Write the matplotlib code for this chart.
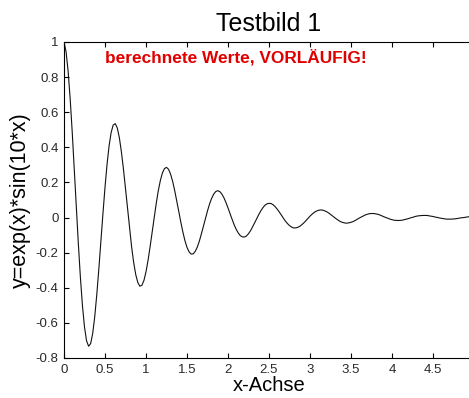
import numpy as np
import matplotlib
matplotlib.use("Agg")
import matplotlib.pyplot as plt

plt.rcParams['font.family'] = ['Liberation Sans', 'DejaVu Sans']

# abgetastete Kurve, Schrittweite 0.025 von 0 bis 5
x_values = np.arange(0, 5.0001, 0.025)
y_values = [
    1.000, 0.945, 0.835, 0.679, 0.489, 0.278, 0.061, -0.150, -0.341, -0.502,
    -0.624, -0.702, -0.733, -0.718, -0.660, -0.564, -0.438, -0.292, -0.134, 0.023,
    0.172, 0.303, 0.409, 0.485, 0.527, 0.535, 0.510, 0.455, 0.374, 0.276,
    0.164, 0.048, -0.065, -0.169, -0.257, -0.325, -0.370, -0.391, -0.386, -0.358,
    -0.309, -0.244, -0.166, -0.083, 0.001, 0.081, 0.153, 0.211, 0.254, 0.279,
    0.286, 0.275, 0.247, 0.206, 0.154, 0.095, 0.034, -0.027, -0.083, -0.132,
    -0.170, -0.195, -0.208, -0.207, -0.193, -0.169, -0.135, -0.094, -0.050, -0.005,
    0.038, 0.077, 0.109, 0.133, 0.148, 0.153, 0.148, 0.134, 0.113, 0.086,
    0.055, 0.022, -0.010, -0.041, -0.067, -0.088, -0.103, -0.110, -0.111, -0.105,
    -0.092, -0.075, -0.053, -0.030, -0.006, 0.017, 0.038, 0.056, 0.070, 0.078,
    0.081, 0.080, 0.073, 0.062, 0.048, 0.032, 0.014, -0.003, -0.020, -0.034,
    -0.046, -0.054, -0.059, -0.059, -0.056, -0.050, -0.041, -0.030, -0.018, -0.005,
    0.008, 0.019, 0.029, 0.036, 0.041, 0.043, 0.043, 0.039, 0.034, 0.027,
    0.018, 0.009, -0.000, -0.009, -0.017, -0.024, -0.028, -0.031, -0.032, -0.030,
    -0.027, -0.023, -0.017, -0.010, -0.003, 0.003, 0.009, 0.015, 0.019, 0.022,
    0.023, 0.023, 0.021, 0.019, 0.015, 0.010, 0.005, 0.000, -0.004, -0.009,
    -0.012, -0.015, -0.016, -0.017, -0.016, -0.015, -0.012, -0.009, -0.006, -0.002,
    0.001, 0.005, 0.008, 0.010, 0.011, 0.012, 0.012, 0.012, 0.010, 0.008,
    0.006, 0.003, 0.001, -0.002, -0.004, -0.006, -0.008, -0.009, -0.009, -0.009,
    -0.008, -0.007, -0.005, -0.003, -0.001, 0.000, 0.002, 0.004, 0.005, 0.006,
    0.006,
]

x_ticks = [0, 0.5, 1, 1.5, 2, 2.5, 3, 3.5, 4, 4.5]
x_ticklabels = ['0', '0.5', '1', '1.5', '2', '2.5', '3', '3.5', '4', '4.5']
y_ticks = [-0.8, -0.6, -0.4, -0.2, 0, 0.2, 0.4, 0.6, 0.8, 1]
y_ticklabels = ['-0.8', '-0.6', '-0.4', '-0.2', '0', '0.2', '0.4', '0.6', '0.8', '1']

fig = plt.figure(figsize=(4.69, 3.98), dpi=100)
ax = fig.add_axes([64 / 469, 40 / 398, 410 / 469, 316 / 398])

ax.plot(x_values, y_values, color='#111111', linewidth=0.8)

ax.set_xlim(0, 5)
ax.set_ylim(-0.8, 1)
ax.set_xticks(x_ticks)
ax.set_xticklabels(x_ticklabels)
ax.set_yticks(y_ticks)
ax.set_yticklabels(y_ticklabels)
ax.tick_params(direction='in', length=3.5, width=0.8, top=True, right=True,
               labelsize=9.5, labelcolor='#2a2a2a', pad=4)
for sp in ax.spines.values():
    sp.set_linewidth(0.8)

ax.set_title('Testbild 1', fontsize=18, pad=8)
ax.set_xlabel('x-Achse', fontsize=14.5, labelpad=0)
ax.set_ylabel('y=exp(x)*sin(10*x)', fontsize=15.5, labelpad=3)

ax.text(0.5, 0.915, 'berechnete Werte, VORLÄUFIG!', color='#e00000',
        fontsize=12.4, fontweight='bold', va='center', ha='left')

fig.savefig('out.png', dpi=100)
